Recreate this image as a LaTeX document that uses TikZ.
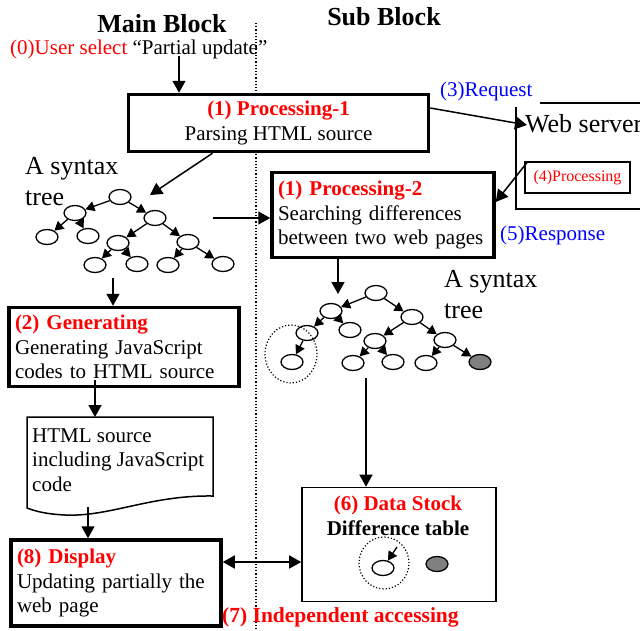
\documentclass[tikz,border=0pt]{standalone}
\usepackage{fontspec}
\setmainfont{Liberation Serif}
\usetikzlibrary{arrows.meta,calc,shapes.geometric}
\definecolor{tgray}{RGB}{128,128,128}
\definecolor{tblue}{RGB}{0,0,255}
\definecolor{tred}{RGB}{255,0,0}
\begin{document}
\begin{tikzpicture}[x=1pt,y=-1pt,
 every node/.style={font=\fontsize{21}{24.5}\selectfont},
 big/.style={font=\fontsize{26}{30.5}\selectfont},
 hd/.style={font=\bfseries\fontsize{26}{30}\selectfont},
 thickbox/.style={draw,line width=3.5pt,inner sep=6pt,fill=white},
 thinbox/.style={draw,line width=1.6pt,fill=white},
 arr/.style={line width=1.5pt,-{Triangle[length=12pt,width=13pt]}},
 darr/.style={line width=1.5pt,{Triangle[length=12pt,width=13pt]}-{Triangle[length=12pt,width=13pt]}},
 tarr/.style={line width=1.3pt,-{Triangle[length=9pt,width=10pt]}},
 tn/.style={ellipse,draw,line width=1.3pt,fill=white,minimum width=22pt,minimum height=15pt,inner sep=0pt},
 dots/.style={line width=1.2pt,dash pattern=on 1.2pt off 2pt}
]
\useasboundingbox (0,0) rectangle (640,630);
% dotted separator
\coordinate (sepT) at (256,23);
\coordinate (sepB) at (256,632);
\draw[dots] (sepT) -- (sepB);

% headings
\node[hd,anchor=base] (mainhd) at (162,32) {Main Block};
\node[hd,anchor=base] (subhd) at (384,25) {Sub Block};
\node[anchor=base west,inner sep=0pt] (user) at (10,54) {\textcolor{tred}{(0)User select} “Partial update”};

% boxes
\node[thickbox,minimum width=300pt,minimum height=57pt,align=center] (p1) at (278.5,123)
  {\textcolor{tred}{\bfseries (1) Processing-1}\\Parsing HTML source};
\node[thickbox,text width=210pt,minimum height=85pt,align=left] (p2) at (383,215)
  {\textcolor{tred}{\bfseries (1) Processing-2}\\Searching differences\\between two web pages};
\node[thickbox,text width=218pt,minimum height=79pt,align=left] (gen) at (124,347)
  {\textcolor{tred}{\bfseries (2) Generating}\\Generating JavaScript\\codes to HTML source};
\node[thickbox,text width=198pt,minimum height=86pt,align=left] (disp) at (116,583)
  {\textcolor{tred}{\bfseries (8) Display}\\Updating partially the\\web page};
\node[thinbox,minimum width=194pt,minimum height=114pt] (ds) at (399,544.5) {};
\node[anchor=base,align=center,inner sep=0pt,font=\bfseries\fontsize{21}{25}\selectfont] (dstext) at (398,535)
  {\textcolor{tred}{(6) Data Stock}\\Difference table};

% document shape
\coordinate (docTL) at (27,417);
\coordinate (docTR) at (213,417);
\coordinate (docBR) at (213,496);
\coordinate (docBL) at (27,508);
\draw[line width=1.5pt,fill=white] (docBL) -- (docTL) -- (docTR) -- (docBR)
  .. controls (150,495) and (110,517) .. (65,515) .. controls (45,514) and (35,511) .. (docBL) -- cycle;
\node[anchor=base west,align=left,inner sep=0pt] (doctext) at (32,491) {HTML source\\including JavaScript\\code};

% web server
\coordinate (wsA) at (540,103);
\coordinate (wsB) at (645,103);
\coordinate (wsC) at (516,107);
\coordinate (wsD) at (516,209);
\coordinate (wsE) at (645,209);
\draw[line width=1.5pt] (wsA) -- (wsB);
\draw[line width=1.5pt] (wsC) -- (wsD) -- (wsE);
\node[big,anchor=base west,inner sep=0pt] (ws) at (525,132) {Web server};
\node[draw,line width=1.5pt,minimum width=105pt,minimum height=31pt,inner sep=0pt,font=\fontsize{16}{18}\selectfont,text=tred] (p4) at (577.5,177.5) {(4)Processing};

% labels
\node[anchor=base west,inner sep=0pt,text=tblue] (req) at (440,96) {(3)Request};
\node[anchor=base west,inner sep=0pt,text=tblue] (resp) at (500,240) {(5)Response};
\node[anchor=base west,inner sep=0pt,text=tred,font=\bfseries\fontsize{21.5}{25}\selectfont] (indep) at (222,622) {(7) Independent accessing};
\node[big,anchor=base west,align=left,inner sep=0pt] (lsyn) at (25,205) {A syntax\\tree};
\node[big,anchor=base west,align=left,inner sep=0pt] (rsyn) at (444,318) {A syntax\\tree};

% left tree
\node[tn] (l0) at (120,197) {};
\node[tn] (l1) at (75,213) {};
\node[tn] (l2) at (155,218) {};
\node[tn] (l3) at (47,237) {};
\node[tn] (l4) at (88,236) {};
\node[tn] (l5) at (118,243) {};
\node[tn] (l6) at (188,242) {};
\node[tn] (l7) at (95,265) {};
\node[tn] (l8) at (137,264) {};
\node[tn] (l9) at (168,265) {};
\node[tn] (l10) at (223,264) {};
\foreach \a/\b in {l0/l1,l0/l2,l1/l3,l1/l4,l2/l5,l2/l6,l5/l7,l5/l8,l6/l9,l6/l10}
  \draw[tarr] (\a) -- (\b);

% right tree
\node[tn] (r0) at (376,293) {};
\node[tn] (r1) at (331,311) {};
\node[tn] (r2) at (412,317) {};
\node[tn] (r3) at (307,333) {};
\node[tn] (r4) at (350,330) {};
\node[tn] (r5) at (375,341) {};
\node[tn] (r6) at (445,340) {};
\node[tn] (r7) at (292,362) {};
\node[tn] (r8) at (353,363) {};
\node[tn] (r9) at (393,362) {};
\node[tn] (r10) at (426,363) {};
\node[tn,fill=tgray] (r11) at (480,362) {};
\foreach \a/\b in {r0/r1,r0/r2,r1/r3,r1/r4,r2/r5,r2/r6,r3/r7,r5/r8,r5/r9,r6/r10,r6/r11}
  \draw[tarr] (\a) -- (\b);
\node[draw,dots,ellipse,minimum width=52pt,minimum height=58pt,inner sep=0pt] (rcirc) at (291,354) {};

% data stock content
\node[draw,dots,ellipse,minimum width=50pt,minimum height=52pt,inner sep=0pt] (dcirc) at (384,563) {};
\node[tn] (dn) at (383,568) {};
\node[tn,fill=tgray] (dg) at (437,564) {};
\coordinate (dnA) at (397,547);
\draw[tarr] (dnA) -- (dn);

% connectors
\coordinate (a0s) at (179,56);
\draw[arr] (a0s) -- (a0s |- p1.north);
\coordinate (wsin) at (527,125);
\draw[arr] ($(p1.east)+(0,-15)$) -- (wsin);
\coordinate (t1e) at (150,195);
\draw[arr] ($(p1.south)+(-66,0)$) -- (t1e);
\coordinate (t2s) at (213,218);
\draw[arr] (t2s) -- (t2s -| p2.west);
\coordinate (t3s) at (113,278);
\draw[arr] (t3s) -- (t3s |- gen.north);
\coordinate (g1) at (95,0);
\draw[arr] ($(gen.south -| g1)+(0,-8)$) -- (g1 |- docTL);
\coordinate (d1) at (88,507);
\draw[arr] (d1) -- (d1 |- disp.north);
\coordinate (dy) at (0,562);
\draw[darr] (disp.east |- dy) -- (ds.west |- dy);
\draw[arr] ($(p4.north west)+(3,1)$) -- ($(p2.east)+(0,-13)$);
\coordinate (r0e) at (338,294);
\draw[arr] (p2.south -| r0e) -- (r0e);
\coordinate (r5s) at (366,378);
\draw[arr] (r5s) -- (r5s |- ds.north);
\end{tikzpicture}
\end{document}
